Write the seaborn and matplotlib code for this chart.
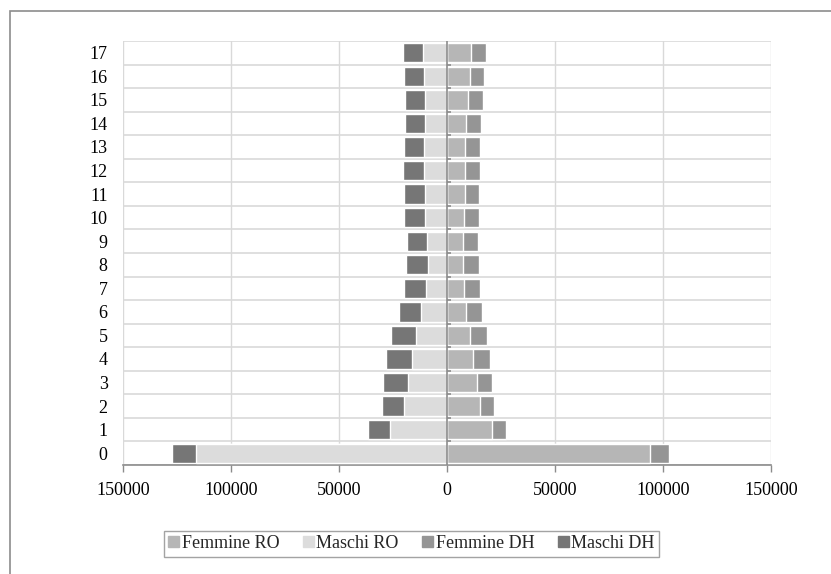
"""Piramide per età: RO / DH, maschi a sinistra, femmine a destra."""
import matplotlib
matplotlib.use("Agg")
import matplotlib.pyplot as plt
import matplotlib.patches as mpatches
import numpy as np
import pandas as pd
import seaborn as sns

ages = list(range(18))
femmine_ro = [94100, 20800, 15400, 13900, 12000, 10500, 8950, 7700, 7400,
              7400, 7700, 8200, 8500, 8500, 8950, 9700, 10500, 11300]
femmine_dh = [8500, 6700, 6400, 7100, 7700, 8200, 7400, 7700, 7550,
              6800, 7250, 6750, 6900, 6900, 6650, 7100, 6800, 6900]
maschi_ro = [116100, 26500, 19750, 18200, 16200, 14200, 12000, 9600, 8800,
             9300, 10000, 10300, 10800, 10800, 10300, 10000, 10800, 11100]
maschi_dh = [11200, 10100, 10350, 11400, 12200, 11600, 10400, 10400, 10000,
             9200, 9750, 9450, 9600, 9200, 9000, 9300, 8950, 9300]
x_ticks = [-150000, -100000, -50000, 0, 50000, 100000, 150000]

colors = {"Femmine RO": "#b6b6b6", "Maschi RO": "#dcdcdc",
          "Femmine DH": "#959595", "Maschi DH": "#767676"}

df = pd.DataFrame({
    "eta": [str(a) for a in ages],
    "f_ro": femmine_ro,
    "f_tot": np.add(femmine_ro, femmine_dh),
    "m_ro": -np.array(maschi_ro),
    "m_tot": -np.add(maschi_ro, maschi_dh),
})
order = [str(a) for a in reversed(ages)]

sns.set_style("white")
plt.rcParams["font.family"] = ["Liberation Serif", "DejaVu Serif"]

fig = plt.figure(figsize=(8.31, 5.74), dpi=100)
ax = fig.add_axes([0.148, 0.19, 0.78, 0.7386])

bw = 0.82
# totals first (DH colour), then RO on top -> stacked look
sns.barplot(data=df, x="f_tot", y="eta", order=order, orient="h",
            color=colors["Femmine DH"], width=bw, saturation=1, ax=ax, zorder=2)
sns.barplot(data=df, x="f_ro", y="eta", order=order, orient="h",
            color=colors["Femmine RO"], width=bw, saturation=1, ax=ax, zorder=3)
sns.barplot(data=df, x="m_tot", y="eta", order=order, orient="h",
            color=colors["Maschi DH"], width=bw, saturation=1, ax=ax, zorder=2)
sns.barplot(data=df, x="m_ro", y="eta", order=order, orient="h",
            color=colors["Maschi RO"], width=bw, saturation=1, ax=ax, zorder=3)

ax.set_xlim(-150000, 150000)
ax.set_ylim(len(ages) - 0.5, -0.5)
ax.set_xticks(x_ticks)
ax.set_xticklabels([str(abs(t)) for t in x_ticks])
ax.set_xlabel("")
ax.set_ylabel("")

# grid: verticals at ticks, horizontals at category boundaries
grid_c = "#d9d9d9"
for t in x_ticks:
    if t != 0:
        ax.axvline(t, color=grid_c, lw=1, zorder=0)
boundaries = np.arange(-0.5, len(ages), 1.0)
for b in boundaries:
    ax.axhline(b, color=grid_c, lw=1.2, zorder=1)
ax.axvline(0, color="#8c8c8c", lw=1.2, zorder=4)
# small category ticks on the zero axis
ax.hlines(boundaries[1:-1], 0, 2000, color="#8c8c8c", lw=1.2, zorder=4)

for s in ["top", "right", "left"]:
    ax.spines[s].set_visible(False)
ax.spines["bottom"].set_color("#8c8c8c")
ax.spines["bottom"].set_linewidth(1.2)
ax.tick_params(axis="x", length=5, width=1, color="#8c8c8c", pad=7,
               labelsize=13, labelcolor="black", direction="out", bottom=True)
ax.tick_params(axis="y", length=0, pad=11, labelsize=13, labelcolor="black")

handles = [mpatches.Patch(color=c, label=k) for k, c in colors.items()]
leg = fig.legend(handles=handles, loc="center", bbox_to_anchor=(0.495, 0.053),
                 ncol=4, frameon=True, fontsize=13, handlelength=0.6,
                 handleheight=0.6, handletextpad=0.15, columnspacing=1.3,
                 borderpad=0.25, fancybox=False)
leg.get_frame().set_edgecolor("#8c8c8c")
leg.get_frame().set_linewidth(1.0)

# outer border of the chart area (cut at right/bottom edges)
fig.patches.append(mpatches.Rectangle((10 / 831, -0.1), 1.2, 1 - 11 / 574 + 0.1,
                                      transform=fig.transFigure, fill=False,
                                      edgecolor="#8c8c8c", lw=1.2))

fig.savefig("out.png", dpi=100)
